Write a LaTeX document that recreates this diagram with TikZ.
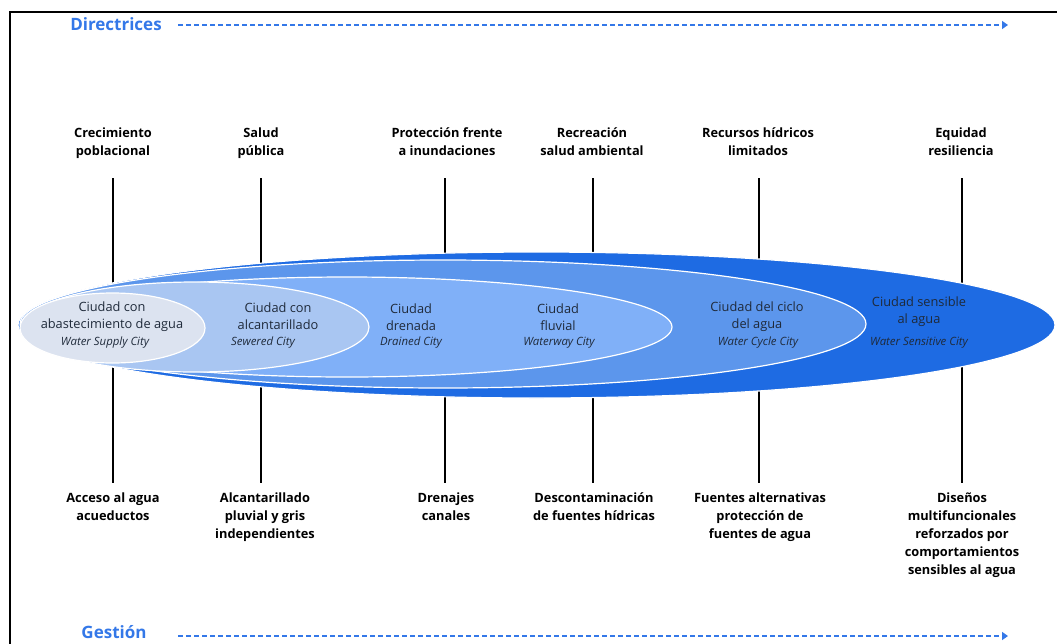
\documentclass[tikz,border=0pt]{standalone}
\usepackage{fontspec}
\setmainfont{Open Sans}
\usetikzlibrary{arrows.meta}
\definecolor{hdblue}{HTML}{3478E8}
\definecolor{ringA}{HTML}{1E6BE3}
\definecolor{ringB}{HTML}{5C96EC}
\definecolor{ringC}{HTML}{80B0F8}
\definecolor{ringD}{HTML}{A9C6F2}
\definecolor{ringE}{HTML}{DCE3F0}
\definecolor{inktext}{HTML}{1F2A3A}
\begin{document}
\begin{tikzpicture}[x=1pt,y=-1pt,
  ring/.style={draw=white,line width=1.2pt},
  driver/.style={font=\fontsize{12.8}{18}\selectfont\bfseries,align=center,text=black,inner sep=0pt,anchor=north,
    execute at begin node=\rule{0pt}{11pt}},
  city/.style={font=\fontsize{12.8}{17}\selectfont,align=center,text=inktext,inner sep=0pt},
  sub/.style={font=\fontsize{11.4}{13}\selectfont\itshape,text=inktext,inner sep=0pt},
  stem/.style={line width=1.3pt,black},
  flow/.style={hdblue,line width=1.6pt,dash pattern=on 5pt off 3pt,-{Triangle[length=6pt,width=8pt]}},
  head/.style={font=\fontsize{17}{19}\selectfont\bfseries,text=hdblue,inner sep=0pt}]
\useasboundingbox (0,0) rectangle (1057,643);
\begin{scope}
\clip (0,0) rectangle (1057,643);
\draw[line width=2pt] (10,12) rectangle (1080,670);
\end{scope}

% headers and flow arrows
\node[head] (dir) at (116,24) {Directrices};
\coordinate (dirA) at (178,25);
\coordinate (dirB) at (1008,25);
\draw[flow] (dirA) -- (dirB);
\node[head] (ges) at (114,632) {Gestión};
\coordinate (gesA) at (178,636);
\coordinate (gesB) at (1008,636);
\draw[flow] (gesA) -- (gesB);

% stems (drawn beneath the rings)
\foreach \n/\x in {1/113,2/261,3/445,4/593,5/759,6/962}{
  \coordinate (tp\n) at (\x,178);
  \coordinate (md\n) at (\x,325);
  \coordinate (bt\n) at (\x,483);
  \draw[stem] (tp\n) -- (md\n) -- (bt\n);
}

% nested rings
\fill[ringA] (536.5,325) ellipse [x radius=518.5,y radius=73];
\draw[ring] (536.5,325) ellipse [x radius=518.5,y radius=73];
\fill[ringB] (443,324) ellipse [x radius=423,y radius=64];
\draw[ring] (443,324) ellipse [x radius=423,y radius=64];
\fill[ringC] (347,327) ellipse [x radius=325,y radius=50];
\draw[ring] (347,327) ellipse [x radius=325,y radius=50];
\fill[ringD] (195,327) ellipse [x radius=174,y radius=45];
\draw[ring] (195,327) ellipse [x radius=174,y radius=45];
\fill[ringE] (112.5,328) ellipse [x radius=92.5,y radius=35];
\draw[ring] (112.5,328) ellipse [x radius=92.5,y radius=35];

% city stages
\node[city] (c1) at (112,317) {Ciudad con\\abastecimiento de agua};
\node[sub] (s1) at (105,343) {Water Supply City};
\node[city] (c2) at (278,316) {Ciudad con\\alcantarillado};
\node[sub] (s2) at (263,343) {Sewered City};
\node[city] (c3) at (411,317) {Ciudad\\drenada};
\node[sub] (s3) at (411,343) {Drained City};
\node[city] (c4) at (558,317) {Ciudad\\fluvial};
\node[sub] (s4) at (559,343) {Waterway City};
\node[city] (c5) at (757,317) {Ciudad del ciclo\\del agua};
\node[sub] (s5) at (758,343) {Water Cycle City};
\node[city] (c6) at (919,312) {Ciudad sensible\\al agua};
\node[sub] (s6) at (919,343) {Water Sensitive City};

% drivers
\node[driver] (d1) at (113,127.5) {Crecimiento\\poblacional};
\node[driver] (d2) at (261,127.5) {Salud\\pública};
\node[driver] (d3) at (447,127.5) {Protección frente\\a inundaciones};
\node[driver] (d4) at (592,127.5) {Recreación\\salud ambiental};
\node[driver] (d5) at (758,127.5) {Recursos hídricos\\limitados};
\node[driver] (d6) at (961,127.5) {Equidad\\resiliencia};

% management responses
\node[driver] (g1) at (113,492.5) {Acceso al agua\\acueductos};
\node[driver] (g2) at (265,492.5) {Alcantarillado\\pluvial y gris\\independientes};
\node[driver] (g3) at (446,492.5) {Drenajes\\canales};
\node[driver] (g4) at (594,492.5) {Descontaminación\\de fuentes hídricas};
\node[driver] (g5) at (760,492.5) {Fuentes alternativas\\protección de\\fuentes de agua};
\node[driver] (g6) at (962,492.5) {Diseños\\multifuncionales\\reforzados por\\comportamientos\\sensibles al agua};
\end{tikzpicture}
\end{document}
